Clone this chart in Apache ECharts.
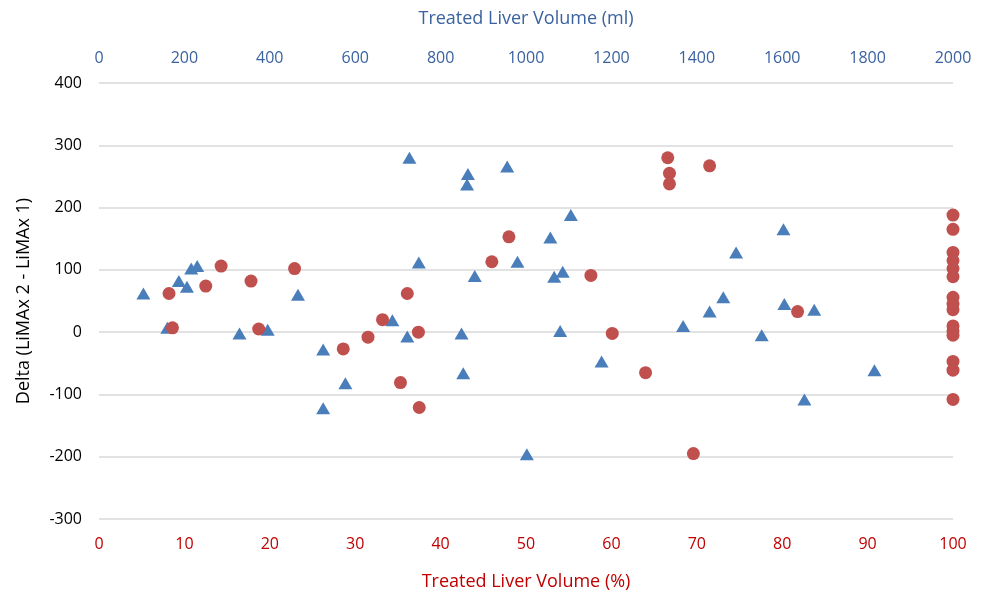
<!DOCTYPE html>
<html>
<head>
<meta charset="utf-8">
<script src="https://cdn.jsdelivr.net/npm/echarts@6/dist/echarts.min.js"></script>
<style>
  html, body { margin: 0; padding: 0; background: #fff; }
  #chart { width: 986px; height: 596px; }
</style>
</head>
<body>
<div id="chart"></div>
<script>
// Treated volume in ml (top axis) vs delta LiMAx
const mlVolume = [104, 160, 187, 206, 216, 230, 329, 395, 466, 525, 525, 577, 687, 722, 727, 749,
  849, 853, 862, 864, 880, 956, 980, 1002, 1057, 1066, 1080, 1086, 1105, 1177, 1368, 1430, 1462,
  1492, 1552, 1603, 1605, 1652, 1675, 1816];
const mlDelta = [62, 7, 82, 73, 102, 106, -2, 4, 60, -28, -122, -82, 19, -7, 280, 112,
  -2, -66, 237, 254, 90, 266, 113, -196, 152, 89, 2, 97, 188, -47, 10, 33, 56,
  128, -5, 165, 45, -108, 36, -61];

// Treated volume in % (bottom axis) vs delta LiMAx
const pctVolume = [8.2, 8.6, 12.5, 14.3, 17.8, 18.7, 22.9, 28.6, 31.5, 33.2, 35.3, 36.1, 37.4, 37.5,
  46.0, 48.0, 57.6, 60.1, 64.0, 66.6, 66.8, 66.8, 69.6, 71.5, 81.8,
  100, 100, 100, 100, 100, 100, 100, 100, 100, 100, 100, 100, 100, 100, 100];
const pctDelta = [62, 7, 74, 106, 82, 5, 102, -27, -8, 20, -81, 62, 0, -121,
  113, 153, 91, -2, -65, 280, 255, 238, -195, 267, 33,
  188, 165, 128, 115, 102, 89, 56, 45, 36, 10, 2, -5, -47, -61, -108];

const yTicks = { min: -300, max: 400, step: 100 };
const pctTicks = { min: 0, max: 100, step: 10 };
const mlTicks = { min: 0, max: 2000, step: 200 };

const FONT = 'Open Sans';
const BLUE_TXT = '#3a62a0';
const RED_TXT = '#c00000';

const chart = echarts.init(document.getElementById('chart'));

chart.setOption({
  animation: false,
  grid: { left: 99, right: 33, top: 83, bottom: 76 },
  xAxis: [
    {
      type: 'value', position: 'bottom',
      min: pctTicks.min, max: pctTicks.max, interval: pctTicks.step,
      name: 'Treated Liver Volume (%)', nameLocation: 'middle', nameGap: 54,
      nameTextStyle: { color: RED_TXT, fontSize: 18, fontFamily: FONT },
      axisLine: { show: false }, axisTick: { show: false }, splitLine: { show: false },
      axisLabel: { color: RED_TXT, fontSize: 16, fontFamily: FONT, margin: 17, formatter: v => String(v) }
    },
    {
      type: 'value', position: 'top',
      min: mlTicks.min, max: mlTicks.max, interval: mlTicks.step,
      name: 'Treated Liver Volume (ml)', nameLocation: 'middle', nameGap: 55,
      nameTextStyle: { color: BLUE_TXT, fontSize: 18, fontFamily: FONT },
      axisLine: { show: false }, axisTick: { show: false }, splitLine: { show: false },
      axisLabel: { color: BLUE_TXT, fontSize: 16, fontFamily: FONT, margin: 17, formatter: v => String(v) }
    }
  ],
  yAxis: {
    type: 'value',
    min: yTicks.min, max: yTicks.max, interval: yTicks.step,
    name: 'Delta (LiMAx 2 - LiMAx 1)', nameLocation: 'middle', nameGap: 66,
    nameTextStyle: { color: '#000', fontSize: 18, fontFamily: FONT },
    axisLine: { show: false }, axisTick: { show: false },
    axisLabel: { color: '#000', fontSize: 16, fontFamily: FONT, margin: 17, formatter: v => String(v) },
    splitLine: { lineStyle: { color: '#d9d9d9', width: 1.5 } }
  },
  series: [
    {
      name: 'ml', type: 'scatter', xAxisIndex: 1,
      symbol: 'triangle', symbolSize: [14, 12],
      itemStyle: { color: '#4a7ebb', opacity: 1 },
      data: mlVolume.map((v, i) => [v, mlDelta[i]])
    },
    {
      name: '%', type: 'scatter', xAxisIndex: 0,
      symbol: 'circle', symbolSize: 13,
      itemStyle: { color: '#c0504d', opacity: 1 },
      data: pctVolume.map((v, i) => [v, pctDelta[i]])
    }
  ]
});
</script>
</body>
</html>
